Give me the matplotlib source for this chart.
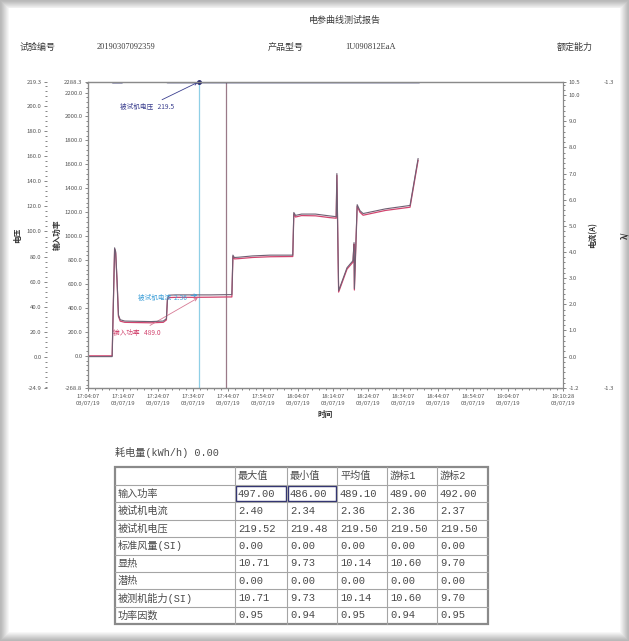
import numpy as np
import matplotlib.pyplot as plt
from matplotlib.patches import Rectangle
from matplotlib.ticker import MultipleLocator, FixedLocator

plt.rcParams['font.family'] = ['Noto Sans CJK SC', 'DejaVu Sans']

# 时间轴: 距 17:04:07 的分钟数
t_power = [0, 6.9, 7.1, 7.6, 7.9, 8.3, 8.7, 9.2, 10.5, 14, 18, 21.5, 22.4, 22.7, 23.2, 25, 30, 35, 40, 41.1,
           41.4, 41.8, 43, 47, 52, 58.5, 58.8, 59.3, 61, 65, 69, 70.9, 71.1, 71.6, 74.0, 75.7, 76.0, 76.1,
           76.9, 77.7, 78.6, 85, 92.0, 94.3]
p_power = [0, 0, 250, 890, 860, 620, 330, 290, 280, 278, 276, 280, 300, 470, 487, 489, 489, 490, 492, 492,
           830, 810, 812, 822, 828, 830, 1185, 1160, 1172, 1170, 1155, 1150, 1508, 533, 725, 783, 933, 550,
           1250, 1200, 1175, 1215, 1242, 1633]
i_current = [0.0, 0.0, 1.22, 4.16, 4.02, 2.92, 1.59, 1.41, 1.36, 1.35, 1.34, 1.36, 1.45, 2.23, 2.35, 2.36,
             2.36, 2.36, 2.37, 2.37, 3.88, 3.79, 3.80, 3.85, 3.88, 3.88, 5.51, 5.40, 5.45, 5.45, 5.38, 5.35,
             7.00, 2.52, 3.40, 3.67, 4.36, 2.60, 5.81, 5.58, 5.47, 5.65, 5.78, 7.57]
t_volt = [0, 6.9, 7.1, 9.7, 9.9, 22.5, 22.7, 94.3]
u_volt = [220.6, 220.6, 219.4, 219.4, 220.2, 220.2, 219.5, 219.5]

cursor1, cursor2 = 31.7, 39.4

x_ticks = [0, 10, 20, 30, 40, 50, 60, 70, 80, 90, 100, 110, 120, 135.7]
x_tick_labels = ['17:04:07', '17:14:07', '17:24:07', '17:34:07', '17:44:07', '17:54:07', '18:04:07',
                 '18:14:07', '18:24:07', '18:34:07', '18:44:07', '18:54:07', '19:04:07', '19:10:28']
p_ticks = [-268.8, 0, 200, 400, 600, 800, 1000, 1200, 1400, 1600, 1800, 2000, 2200, 2288.3]
u_ticks = [-24.9, 0, 20, 40, 60, 80, 100, 120, 140, 160, 180, 200, 219.3]
i_ticks = [-1.2, 0, 1, 2, 3, 4, 5, 6, 7, 8, 9, 10, 10.5]

# 统计表
row_names = ['输入功率', '被试机电流', '被试机电压', '标准风量(SI)', '显热', '潜热', '被测机能力(SI)', '功率因数']
col_names = ['最大值', '最小值', '平均值', '游标1', '游标2']
max_vals = [497.00, 2.40, 219.52, 0.00, 10.71, 0.00, 10.71, 0.95]
min_vals = [486.00, 2.34, 219.48, 0.00, 9.73, 0.00, 9.73, 0.94]
avg_vals = [489.10, 2.36, 219.50, 0.00, 10.14, 0.00, 10.14, 0.95]
cur1_vals = [489.00, 2.36, 219.50, 0.00, 10.60, 0.00, 10.60, 0.94]
cur2_vals = [492.00, 2.37, 219.50, 0.00, 9.70, 0.00, 9.70, 0.95]

W, H = 629, 641
fig = plt.figure(figsize=(W / 100, H / 100), dpi=100, facecolor='#b9b9b9')

# 纸张和阴影
page = fig.add_axes([0, 0, 1, 1], zorder=0)
page.set_xlim(0, W)
page.set_ylim(H, 0)
page.axis('off')
for k, g in enumerate(np.linspace(0.74, 0.97, 8)):
    page.add_patch(Rectangle((1 + k, 1 + k), W - 2 - 2 * k, H - 2 - 2 * k, color=str(g), lw=0))
page.add_patch(Rectangle((9, 8), 611, 624, color='white', lw=0))

txt = '#3a3a3a'
cjk_mono = ['Liberation Mono', 'Noto Sans CJK SC']
page.text(345, 20, '电参曲线测试报告', fontsize=6.5, color=txt, ha='center', va='center')
page.text(20, 47, '试验编号', fontsize=6.5, color=txt, va='center')
page.text(97, 47, '20190307092359', fontsize=6, color=txt, va='center', family='Liberation Serif')
page.text(268, 47, '产品型号', fontsize=6.5, color=txt, va='center')
page.text(345, 47, '1U090812EaA', fontsize=6, color=txt, va='center', family='Liberation Serif')
page.text(557, 47, '额定能力', fontsize=6.5, color=txt, va='center')

# 曲线区
ax = fig.add_axes([88 / W, 1 - 388 / H, 475 / W, 306 / H], zorder=2)
ax_u = ax.twinx()
ax_i = ax.twinx()
ax_pf = ax.twinx()

spine_c = '#8a8a8a'
for a in (ax, ax_u, ax_i, ax_pf):
    for s in a.spines.values():
        s.set_color(spine_c)
        s.set_linewidth(0.8)
    a.tick_params(which='both', labelsize=4.3, colors='#555555', width=0.5, pad=1.5)
    a.tick_params(which='major', length=2.5)
    a.tick_params(which='minor', length=1.5)

ax.set_xlim(0, 135.7)
ax.set_ylim(p_ticks[0], p_ticks[-1])
ax.yaxis.set_major_locator(FixedLocator(p_ticks))
ax.set_yticklabels(['%.1f' % v for v in p_ticks])
ax.yaxis.set_minor_locator(MultipleLocator(40))
ax.set_xticks(x_ticks)
ax.set_xticklabels([s + '\n03/07/19' for s in x_tick_labels], linespacing=1.6)
ax.xaxis.set_minor_locator(MultipleLocator(2))
ax.set_xlabel('时间', fontsize=5.5, color='#333333', labelpad=3, fontweight='bold')
ax.set_ylabel('输入功率', fontsize=5.5, color='#333333', labelpad=2, fontweight='bold')

ax_u.set_ylim(u_ticks[0], u_ticks[-1])
ax_u.spines['left'].set_position(('outward', 29.5))
ax_u.spines['left'].set_visible(False)
ax_u.spines['right'].set_visible(False)
ax_u.yaxis.set_ticks_position('left')
ax_u.yaxis.set_label_position('left')
ax_u.yaxis.set_major_locator(FixedLocator(u_ticks))
ax_u.set_yticklabels(['%.1f' % v for v in u_ticks])
ax_u.yaxis.set_minor_locator(MultipleLocator(4))
ax_u.set_ylabel('电压', fontsize=5.5, color='#333333', labelpad=3, fontweight='bold')

ax_i.set_ylim(i_ticks[0], i_ticks[-1])
ax_i.yaxis.set_major_locator(FixedLocator(i_ticks))
ax_i.set_yticklabels(['%.1f' % v for v in i_ticks])
ax_i.yaxis.set_minor_locator(MultipleLocator(0.2))
ax_i.set_ylabel('电流(A)', fontsize=5.5, color='#333333', labelpad=6, fontweight='bold')

ax_pf.set_ylim(0, 1)
ax_pf.spines['right'].set_position(('outward', 28))
ax_pf.spines['right'].set_visible(False)
ax_pf.set_yticks([0, 1])
ax_pf.set_yticklabels(['-1.3', '-1.3'])
ax_pf.tick_params(length=0)
ax_pf.set_ylabel('λ/', fontsize=5.5, color='#333333', labelpad=4, fontweight='bold')

# 游标
ax.axvline(cursor1, color='#8fcfe6', lw=0.9)
ax.axvline(cursor2, color='#9a7a88', lw=0.9)

ax_u.plot(t_volt, u_volt, color='#2b2d6e', lw=2.2, clip_on=True)
ax_i.plot(t_power, i_current, color='#6e5f73', lw=0.8)
ax.plot(t_power, p_power, color='#d2456f', lw=0.9)
ax_u.plot([cursor1], [219.5], 'o', color='#2b2d6e', ms=2.5, clip_on=False)

ax_u.annotate('被试机电压   219.5', xy=(cursor1, 219.5), xytext=(0.067, 0.918),
              textcoords='axes fraction', fontsize=4.8, color='#3b3f8f', va='center',
              arrowprops=dict(arrowstyle='->', color='#3b3f8f', lw=0.6, shrinkA=1, shrinkB=1))
ax_i.annotate('被试机电流  2.36', xy=(cursor1, 2.36), xytext=(0.105, 0.294),
              textcoords='axes fraction', fontsize=4.8, color='#3d9fd8', va='center',
              arrowprops=dict(arrowstyle='->', color='#3d9fd8', lw=0.6, shrinkA=1, shrinkB=1))
ax.annotate('输入功率   489.0', xy=(cursor1, 489), xytext=(0.053, 0.18),
            textcoords='axes fraction', fontsize=4.8, color='#d2456f', va='center',
            arrowprops=dict(arrowstyle='->', color='#d77a95', lw=0.6, shrinkA=1, shrinkB=1))

# 统计表
tbl_c = '#4a4a4a'
page.text(115, 453, '耗电量(kWh/h) 0.00', fontsize=7.3, color=tbl_c, va='center', family=cjk_mono)
col_x = [115, 235, 287, 337, 387, 437, 488]
row_y = [467] + [485 + 17.4 * k for k in range(9)]
grid_c = '#a5a5a5'
for x in col_x[1:-1]:
    page.plot([x, x], [row_y[0], row_y[-1]], color=grid_c, lw=0.8)
for y in row_y[1:-1]:
    page.plot([col_x[0], col_x[-1]], [y, y], color=grid_c, lw=0.8)
page.add_patch(Rectangle((col_x[0], row_y[0]), col_x[-1] - col_x[0], row_y[-1] - row_y[0],
                         fill=False, ec='#8a8a8a', lw=1.6))
for j, name in enumerate(col_names):
    page.text(col_x[j + 1] + 3, (row_y[0] + row_y[1]) / 2, name, fontsize=7.3, color=tbl_c, va='center',
              family=cjk_mono)
columns = [max_vals, min_vals, avg_vals, cur1_vals, cur2_vals]
for i, name in enumerate(row_names):
    yc = (row_y[i + 1] + row_y[i + 2]) / 2
    page.text(col_x[0] + 3, yc, name, fontsize=7.3, color=tbl_c, va='center', family=cjk_mono)
    for j, vals in enumerate(columns):
        page.text(col_x[j + 1] + 3, yc, '%.2f' % vals[i], fontsize=7.6, color=tbl_c, va='center',
                  family=cjk_mono)
for j in (0, 1):
    page.add_patch(Rectangle((col_x[j + 1] + 1, row_y[1] + 1), col_x[j + 2] - col_x[j + 1] - 2,
                             row_y[2] - row_y[1] - 2, fill=False, ec='#2e3070', lw=1.0))

fig.savefig('out.png', dpi=100, facecolor=fig.get_facecolor())
